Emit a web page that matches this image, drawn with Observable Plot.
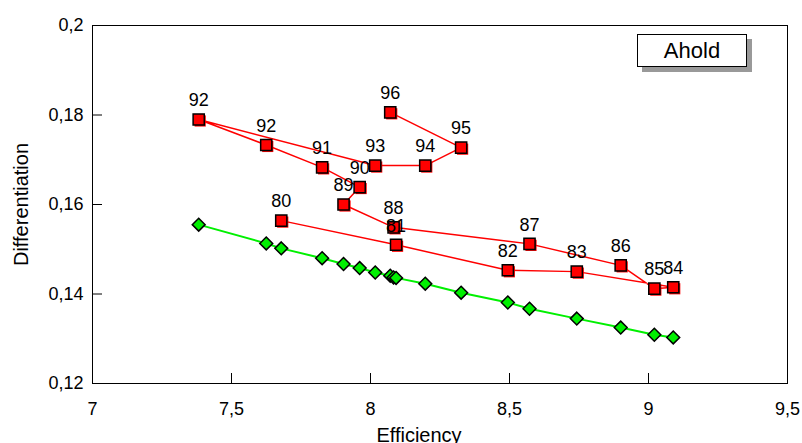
<!DOCTYPE html>
<html><head><meta charset="utf-8">
<script src="https://cdn.jsdelivr.net/npm/d3@7"></script>
<script src="https://cdn.jsdelivr.net/npm/@observablehq/plot@0.6"></script>
<style>
body{margin:0;background:#fff;font-family:"Liberation Sans",Arial,sans-serif}
#wrap{position:relative;width:802px;height:443px}
#legend{position:absolute;z-index:2;left:637px;top:34px;width:108px;height:31px;border:1.5px solid #000;background:#fff;box-shadow:5px 5px 0 #999;font-size:22px;text-align:center;line-height:31px;color:#000}
</style></head><body><div id="wrap"><div id="legend">Ahold</div></div>
<script>
// Yearly path (in order)
const years = ["80","81","82","83","84","85","86","87","88","89","90","91","92","92","93","94","95","96"];
const efficiency = [7.679,8.092,8.494,8.742,9.089,9.021,8.900,8.572,8.083,7.903,7.961,7.826,7.625,7.382,8.017,8.197,8.326,8.071];
const differentiation = [0.1564,0.1510,0.1453,0.1450,0.1415,0.1412,0.1464,0.1512,0.1549,0.1600,0.1639,0.1683,0.1733,0.1790,0.1687,0.1687,0.1727,0.1806];
// Frontier value at each year's efficiency
const frontier = [0.1502,0.1436,0.1381,0.1345,0.1303,0.1309,0.1325,0.1367,0.1437,0.1467,0.1458,0.1480,0.1513,0.1555,0.1448,0.1423,0.1403,0.1441];
const xTicks = [7,7.5,8,8.5,9,9.5];
const yTicks = [0.12,0.14,0.16,0.18,0.2];

const path = years.map((y,i)=>({year:y, x:efficiency[i], y:differentiation[i]}));
const front = efficiency.map((e,i)=>({x:e, y:frontier[i]})).sort((a,b)=>a.x-b.x);
const fmt = d => String(d).replace(".", ",");
const font = '"Liberation Sans", Arial, sans-serif';

const chart = Plot.plot({
  width: 802, height: 443,
  marginLeft: 92, marginRight: 15, marginTop: 25, marginBottom: 60,
  style: {fontFamily: font, fontSize: "18px", color: "#000", background: "#fff"},
  x: {domain: [7, 9.5]},
  y: {domain: [0.12, 0.2]},
  marks: [
    Plot.line(front, {x:"x", y:"y", stroke:"#00f000", strokeWidth:2}),
    Plot.dot(front, {x:"x", y:"y", symbol:"diamond2", r:5.8, fill:"#00f000", stroke:"#000", strokeWidth:1.5}),
    Plot.line(path, {x:"x", y:"y", stroke:"#ff0000", strokeWidth:1.5}),
    Plot.dot(path, {x:"x", y:"y", symbol:"square", r:6.3, fill:"#ff0000", dx:1.5, dy:1.5}),
    Plot.dot(path, {x:"x", y:"y", symbol:"square", r:6.3, fill:"#ff0000", stroke:"#000", strokeWidth:1.5}),
    Plot.text(path, {x:"x", y:"y", text:"year", dy:-19, fontSize:18, fill:"#000"}),
    Plot.frame({stroke:"#000"}),
    Plot.axisX({ticks:xTicks, tickFormat:fmt, tickSize:-10, tickPadding:29, label:null, fontSize:18}),
    Plot.axisY({ticks:yTicks, tickFormat:fmt, tickSize:-10, tickPadding:19, label:null, fontSize:18}),
    Plot.text(["Efficiency"], {frameAnchor:"bottom", dx:-21, dy:58, fontSize:20, fill:"#000"}),
    Plot.text(["Differentiation"], {frameAnchor:"left", textAnchor:"middle", dx:-71, rotate:-90, fontSize:20, fill:"#000"})
  ]
});
document.getElementById("wrap").prepend(chart);
</script>
</body></html>
